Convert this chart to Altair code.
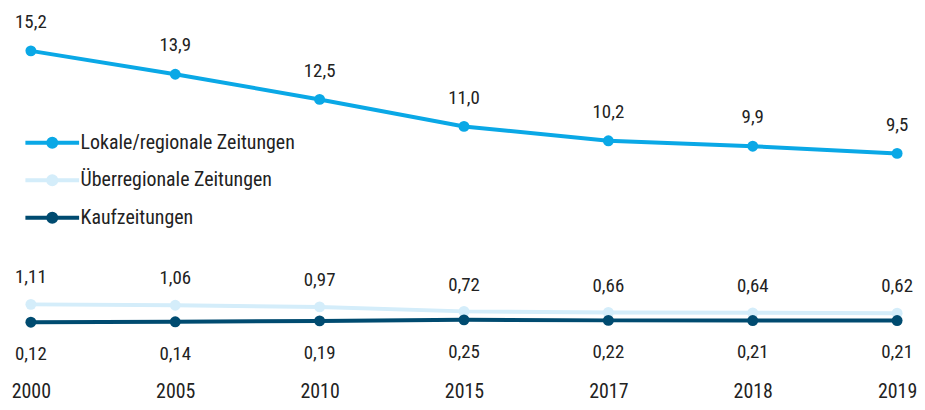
import altair as alt
import pandas as pd

years = ["2000", "2005", "2010", "2015", "2017", "2018", "2019"]
series_names = ["Lokale/regionale Zeitungen", "Überregionale Zeitungen", "Kaufzeitungen"]
lokal = [15.2, 13.9, 12.5, 11.0, 10.2, 9.9, 9.5]
ueber = [1.11, 1.06, 0.97, 0.72, 0.66, 0.64, 0.62]
kauf = [0.12, 0.14, 0.19, 0.25, 0.22, 0.21, 0.21]
colors = ["#0aa8e6", "#d4edfa", "#004b70"]
decimals = [1, 2, 2]

rows = []
for name, vals, dec in zip(series_names, [lokal, ueber, kauf], decimals):
    for y, v in zip(years, vals):
        rows.append({"year": y, "series": name, "value": v,
                     "label": f"{v:.{dec}f}".replace(".", ",")})
df = pd.DataFrame(rows)

FONT = "Liberation Sans Narrow, Roboto Condensed, Roboto, sans-serif"
TXT = "#222222"

x = alt.X("year:O", sort=years,
          scale=alt.Scale(type="point", padding=0),
          axis=alt.Axis(title=None, domain=False, ticks=False, grid=False,
                        labelAngle=0, labelFontSize=20, labelColor=TXT,
                        labelFont=FONT, labelPadding=74, labelBaseline="alphabetic"))
y = alt.Y("value:Q", scale=alt.Scale(domain=[0, 15.2], nice=False, zero=True), axis=None)
color_scale = alt.Scale(domain=series_names, range=colors)

def legend():
    return alt.Legend(
        title=None, orient="none", legendX=6, legendY=77,
        symbolType="M-2,0H2M-0.3,0A0.3,0.3 0 1,0 0.3,0A0.3,0.3 0 1,0 -0.3,0Z",
        symbolSize=729, symbolStrokeWidth=4, labelFontSize=20, labelColor=TXT,
        labelFont=FONT, labelOffset=13, rowPadding=9.7, padding=0, labelLimit=400,
        symbolOpacity=1,
    )

base = alt.Chart(df).encode(x=x, y=y)

line = base.mark_line(strokeWidth=4).encode(
    stroke=alt.Stroke("series:N", scale=color_scale, legend=legend()))
pts = base.mark_point(filled=True, size=120, opacity=1, strokeWidth=0).encode(
    fill=alt.Fill("series:N", scale=color_scale, legend=legend()))

def lab(name, dy):
    return base.transform_filter(alt.datum.series == name).mark_text(
        dy=dy, fontSize=19, font=FONT, color=TXT, baseline="middle").encode(text="label:N")

chart = alt.layer(
    line, pts,
    lab(series_names[0], -29),
    lab(series_names[1], -27),
    lab(series_names[2], 32),
).properties(
    width=871, height=275,
    autosize=alt.AutoSizeParams(type="none"),
    padding={"left": 23, "top": 42, "right": 20, "bottom": 76},
).configure_view(stroke=None)

chart.save("out.html", embed_options={"renderer": "svg", "actions": False})
